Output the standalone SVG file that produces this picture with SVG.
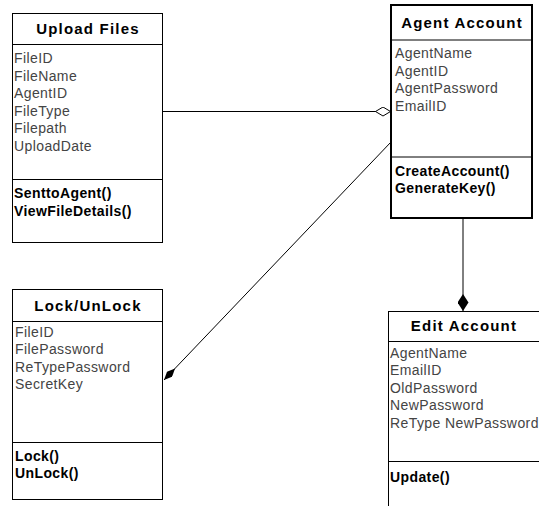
<svg xmlns="http://www.w3.org/2000/svg" width="539" height="506" viewBox="0 0 539 506">
<style>
.box{fill:#fff;stroke:#000;stroke-width:1}
.thick{stroke-width:2}
.sep{stroke:#000;stroke-width:1}
.title{font-family:"Liberation Sans",Arial,sans-serif;font-size:15px;font-weight:bold;fill:#000;text-anchor:middle;letter-spacing:1.2px}
.attr{font-family:"Liberation Sans",Arial,sans-serif;font-size:14px;fill:#444;letter-spacing:0.4px}
.meth{font-family:"Liberation Sans",Arial,sans-serif;font-size:14px;font-weight:bold;fill:#000;letter-spacing:0.4px}
.conn{fill:none;stroke:#000;stroke-width:1}
</style>
<defs>
<marker id="hollowDiamond" markerUnits="userSpaceOnUse" viewBox="0 0 16 10" refX="16" refY="5" markerWidth="16" markerHeight="10" orient="auto">
<path d="M0.5,5 L8,0.5 L15.5,5 L8,9.5 Z" fill="#fff" stroke="#000" stroke-width="1"/>
</marker>
<marker id="filledDiamond" markerUnits="userSpaceOnUse" viewBox="0 0 16 7" refX="16" refY="3.5" markerWidth="16" markerHeight="7" orient="auto">
<path d="M0,3.5 L8,0 L16,3.5 L8,7 Z" fill="#000"/>
</marker>
<marker id="filledDiamondBig" markerUnits="userSpaceOnUse" viewBox="0 0 17 11" refX="17" refY="5.5" markerWidth="17" markerHeight="11" orient="auto">
<path d="M0,5.5 L8.5,0 L17,5.5 L8.5,11 Z" fill="#000"/>
</marker>
</defs>

<g id="connectors">
<line class="conn" x1="162.5" y1="111.5" x2="391" y2="111.5" marker-end="url(#hollowDiamond)"/>
<line class="conn" x1="391" y1="142" x2="164" y2="380" marker-end="url(#filledDiamond)"/>
<line class="conn" x1="463" y1="218" x2="463" y2="311" stroke-width="2" marker-end="url(#filledDiamondBig)"/>
</g>

<g id="upload-files">
<rect class="box" x="12.5" y="13.5" width="150" height="229"/>
<line class="sep" x1="12.5" y1="44.5" x2="162.5" y2="44.5"/>
<line class="sep" x1="12.5" y1="179.5" x2="162.5" y2="179.5"/>
<text class="title" x="88" y="34">Upload Files</text>
<text class="attr" x="14" y="63">FileID</text>
<text class="attr" x="14" y="80.5">FileName</text>
<text class="attr" x="14" y="98">AgentID</text>
<text class="attr" x="14" y="115.5">FileType</text>
<text class="attr" x="14" y="133">Filepath</text>
<text class="attr" x="14" y="150.5">UploadDate</text>
<text class="meth" x="14" y="198">SenttoAgent()</text>
<text class="meth" x="14" y="215.5">ViewFileDetails()</text>
</g>

<g id="agent-account">
<rect class="box thick" x="391" y="5" width="141" height="213"/>
<line class="sep" x1="391" y1="40" x2="532" y2="40" stroke-width="2"/>
<line class="sep" x1="391" y1="157" x2="532" y2="157" stroke-width="2"/>
<text class="title" x="462" y="28">Agent Account</text>
<text class="attr" x="395" y="58">AgentName</text>
<text class="attr" x="395" y="75.5">AgentID</text>
<text class="attr" x="395" y="93">AgentPassword</text>
<text class="attr" x="395" y="110.5">EmailID</text>
<text class="meth" x="395" y="175.5">CreateAccount()</text>
<text class="meth" x="395" y="193">GenerateKey()</text>
</g>

<g id="lock-unlock">
<rect class="box" x="12.5" y="289.5" width="150" height="210"/>
<line class="sep" x1="12.5" y1="321.5" x2="162.5" y2="321.5"/>
<line class="sep" x1="12.5" y1="442.5" x2="162.5" y2="442.5"/>
<text class="title" x="88" y="311">Lock/UnLock</text>
<text class="attr" x="15" y="336.5">FileID</text>
<text class="attr" x="15" y="354">FilePassword</text>
<text class="attr" x="15" y="371.5">ReTypePassword</text>
<text class="attr" x="15" y="389">SecretKey</text>
<text class="meth" x="15" y="460.5">Lock()</text>
<text class="meth" x="15" y="478">UnLock()</text>
</g>

<g id="edit-account">
<rect class="box" x="388.5" y="311.5" width="160" height="210" stroke="#333"/>
<line class="sep" x1="388.5" y1="341.5" x2="539" y2="341.5" stroke="#333"/>
<line class="sep" x1="388.5" y1="461.5" x2="539" y2="461.5" stroke="#333"/>
<text class="title" x="464" y="331">Edit Account</text>
<text class="attr" x="390" y="357.5">AgentName</text>
<text class="attr" x="390" y="375">EmailID</text>
<text class="attr" x="390" y="392.5">OldPassword</text>
<text class="attr" x="390" y="410">NewPassword</text>
<text class="attr" x="390" y="427.5">ReType NewPassword</text>
<text class="meth" x="390" y="481.5">Update()</text>
</g>
</svg>
